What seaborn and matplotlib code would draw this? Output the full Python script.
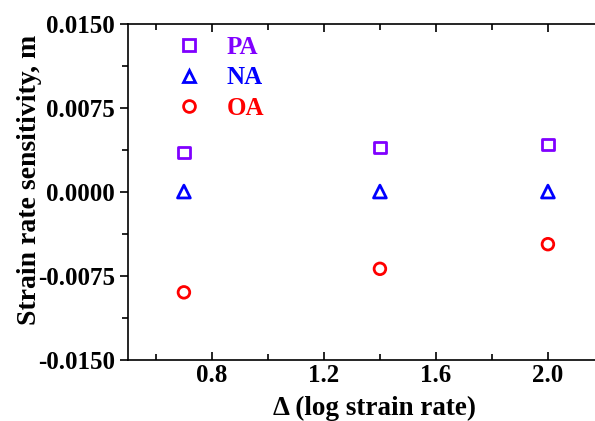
import numpy as np
import pandas as pd
import seaborn as sns
import matplotlib.pyplot as plt
from matplotlib.ticker import MultipleLocator, FormatStrFormatter
from matplotlib.lines import Line2D

# data
delta_log_rate = [0.7, 1.4, 2.0]
m_pa = [0.0035, 0.0039, 0.0042]
m_na = [0.0, 0.0, 0.0]
m_oa = [-0.0090, -0.0069, -0.0047]
series_names = ["PA", "NA", "OA"]
series_colors = ["#8000ff", "#0000ff", "#ff0000"]
series_markers = ["s", "^", "o"]

sns.set_style("ticks")
plt.rcParams['font.family'] = ['Liberation Serif', 'DejaVu Serif']
plt.rcParams['font.weight'] = 'bold'
plt.rcParams['text.color'] = 'black'
plt.rcParams['axes.labelcolor'] = 'black'

fig = plt.figure(figsize=(5.95, 4.21), dpi=100)
ax = fig.add_axes([0.215, 0.146, 0.80, 0.798])

sizes = [65, 85, 70]
for name, vals, c, mk, sz in zip(series_names, [m_pa, m_na, m_oa],
                                 series_colors, series_markers, sizes):
    df = pd.DataFrame({"x": delta_log_rate, "y": vals})
    sns.scatterplot(data=df, x="x", y="y", marker=mk, s=sz, facecolor="none",
                    edgecolor=c, linewidth=2, ax=ax, zorder=3)

ax.set_xlim(0.5, 2.2)
ax.set_ylim(-0.015, 0.015)
ax.xaxis.set_major_locator(MultipleLocator(0.4))
ax.xaxis.set_minor_locator(MultipleLocator(0.2))
ax.yaxis.set_major_locator(MultipleLocator(0.0075))
ax.yaxis.set_minor_locator(MultipleLocator(0.00375))
ax.xaxis.set_major_formatter(FormatStrFormatter('%.1f'))
ax.yaxis.set_major_formatter(FormatStrFormatter('%.4f'))
ax.set_xticks([0.8, 1.2, 1.6, 2.0])

ax.tick_params(axis='x', which='both', direction='in', top=True, bottom=True,
               labelsize=18, width=1.2, colors='black')
ax.tick_params(axis='x', which='major', length=6, pad=3)
ax.tick_params(axis='x', which='minor', length=4)
ax.tick_params(axis='y', which='both', direction='out', labelsize=18,
               width=1.2, colors='black')
ax.tick_params(axis='y', which='major', length=6)
ax.tick_params(axis='y', which='minor', length=4)
for sp in ax.spines.values():
    sp.set_linewidth(1.2)
    sp.set_color('black')

ax.set_xlabel("Δ (log strain rate)", fontsize=19.5, fontweight='bold', color='black')
ax.set_ylabel("Strain rate sensitivity, m", fontsize=20, fontweight='bold', color='black')
ax.xaxis.set_label_coords(0.519, -0.108)
ax.yaxis.set_label_coords(-0.18, 0.535)

handles = [Line2D([], [], linestyle='none', marker=mk, markersize=8.5,
                  markerfacecolor='none', markeredgecolor=c, markeredgewidth=2)
           for mk, c in zip(series_markers, series_colors)]
leg = ax.legend(handles, series_names, loc='upper left',
                bbox_to_anchor=(0.05, 1.03), frameon=False, fontsize=18,
                handletextpad=0.9, labelspacing=0.3, handlelength=1.2)
for t, c in zip(leg.get_texts(), series_colors):
    t.set_color(c)

fig.savefig("out.png", dpi=100)
